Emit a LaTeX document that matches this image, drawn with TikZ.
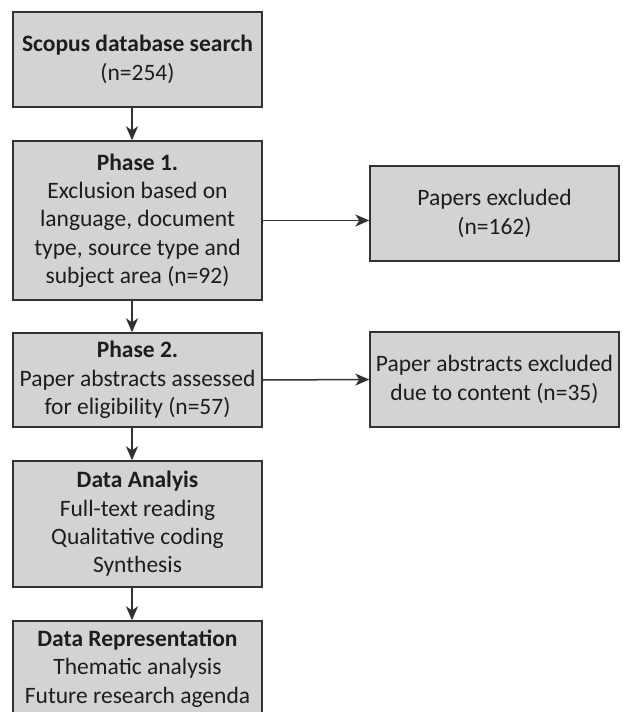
\documentclass[tikz,border=0pt]{standalone}
\usepackage{fontspec}
\setmainfont{Carlito}
\usetikzlibrary{shapes,arrows.meta,positioning,calc}
\usepackage{xcolor}
\definecolor{boxgray}{RGB}{210,211,213}
\definecolor{linegray}{RGB}{50,50,50}
\definecolor{textgray}{RGB}{30,28,29}

\begin{document}
\begin{tikzpicture}[x=1pt, y=-1pt,
    stage/.style={draw=linegray, line width=1.4pt, fill=boxgray, rectangle, minimum width=249pt, inner sep=2pt, align=center, text=textgray, font=\fontsize{23.5}{28.3}\selectfont},
    flow/.style={draw=linegray, line width=1.5pt, -{Stealth[length=14pt, width=12pt, inset=4pt]}}]
                \useasboundingbox (0,0) rectangle (623,712);

                % Main column
                \node[stage, minimum height=95pt] (search) at (137.5,59.5) {\textbf{Scopus database search}\\(n=254)};
                \node[stage, minimum height=159pt] (phaseone) at (137.5,220.5) {\textbf{Phase 1.}\\Exclusion based on\\language, document\\type, source type and\\subject area (n=92)};
                \node[stage, minimum height=94pt] (phasetwo) at (137.5,380) {\textbf{Phase 2.}\\Paper abstracts assessed\\for eligibility (n=57)};
                \node[stage, minimum height=126pt] (analysis) at (137.5,524) {\textbf{Data Analyis}\\Full-text reading\\Qualitative coding\\Synthesis};
                \node[stage, minimum height=95pt] (represent) at (137.5,668.5) {\textbf{Data Representation}\\Thematic analysis\\Future research agenda};

                % Excluded boxes
                \node[stage, minimum height=95pt] (exclone) at (494.5,213.5) {Papers excluded\\(n=162)};
                \node[stage, minimum height=95pt] (excltwo) at (494.5,379.5) {Paper abstracts excluded\\due to content (n=35)};

                % Downward arrows
                \draw[flow] ([xshift=-5.5pt]search.south) -- ([xshift=-5.5pt]phaseone.north);
                \draw[flow] ([xshift=-5.5pt]phaseone.south) -- ([xshift=-5.5pt]phasetwo.north);
                \draw[flow] ([xshift=-5.5pt]phasetwo.south) -- ([xshift=-5.5pt]analysis.north);
                \draw[flow] ([xshift=-5.5pt]analysis.south) -- ([xshift=-5.5pt]represent.north);

                % Exclusion arrows
                \draw[flow] (phaseone.east) -- (phaseone.east -| exclone.west);
                \draw[flow] (phasetwo.east) -- (excltwo.west);
            \end{tikzpicture}
\end{document}
